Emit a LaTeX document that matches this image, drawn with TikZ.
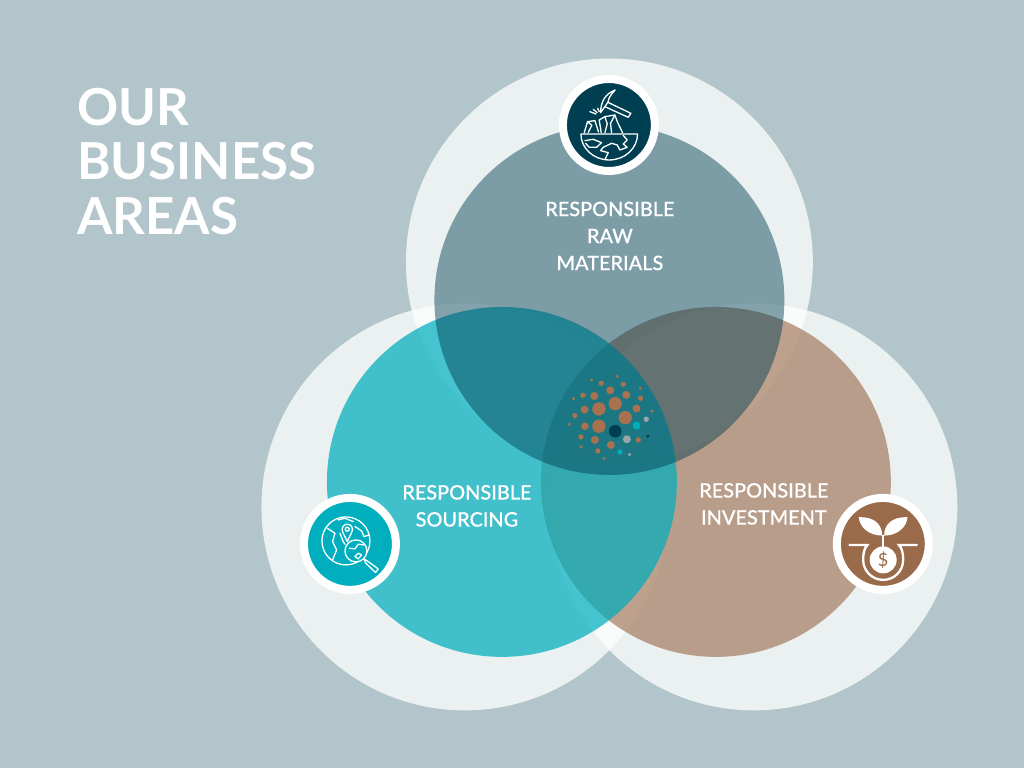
\documentclass[tikz,border=0pt]{standalone}
\usepackage{fontspec}
\setmainfont{Lato}
\newfontfamily\labelfont[FakeBold=0.25]{Lato Medium}
\usetikzlibrary{positioning}
\definecolor{bgblue}{HTML}{B2C5CB}
\definecolor{darkblue}{HTML}{003F52}
\definecolor{teal}{HTML}{00AEBD}
\definecolor{brown}{HTML}{9A6B4B}
\definecolor{dotbrown}{HTML}{A8714F}
\definecolor{dotgrey}{HTML}{9AA5A8}
\begin{document}
\begin{tikzpicture}[x=1pt,y=-1pt,
		every node/.style={align=center,inner sep=0pt},
		halo/.style={circle,minimum size=407pt,fill=white,fill opacity=.75},
		area/.style={circle,minimum size=350pt},
		badge/.style={circle,minimum size=92pt,draw=white,line width=8pt},
		label/.style={text=white,font=\labelfont\fontsize{19.9}{27}\selectfont},
		icon/.style={draw=white,line width=1.3pt,line join=round,line cap=round}
	]
	\node[fill=bgblue,minimum width=1024pt,minimum height=768pt,anchor=north west](Back) at (0,0){};
	\useasboundingbox (0,0) rectangle (1024,768);
	% big pale circles
	\node[halo](HaloTop) at (609.5,262){};
	\node[halo](HaloLeft) at (465,507){};
	\node[halo](HaloRight) at (754,507){};
	% the three areas
	\node[area,fill=brown,fill opacity=.62](AreaRight) at (716,482){};
	\node[area,fill=teal,fill opacity=.72](AreaLeft) at (502,482){};
	\node[area,fill=darkblue,fill opacity=.47](AreaTop) at (609.5,300){};
	% logo in the middle
	\begin{scope}[shift={(555,365)},scale=1/3]
		\foreach \x/\y/\r in {132/132/20,181/116/20,211/158/20,132/184/20,
				118/93/12,166/76/12,214/90/12,89/134/12,90/184/11.5,120/225/12,168/240/12,245/131/12,
				139/55/8,205/58/8,84/91/8,257/100/8,60/152/8,78/216/8,129/258/8,250/225/8,
				110/46/5,187/34/5,256/70/5,56/101/5,291/139/5,44/178/5,79/246/5,148/281/5}
			\fill[dotbrown] (\x,\y) circle (\r);
		\foreach \x/\y/\r in {181/199/19,279/214/5}
			\fill[darkblue] (\x,\y) circle (\r);
		\foreach \x/\y/\r in {245/182/12,195/261/8}
			\fill[teal] (\x,\y) circle (\r);
		\foreach \x/\y/\r in {216/223/12,274/163/8,224/269/5}
			\fill[dotgrey] (\x,\y) circle (\r);
	\end{scope}
	% badges
	\node[badge,fill=darkblue](BadgeTop) at (609,125){};
	\node[badge,fill=teal](BadgeLeft) at (350,544){};
	\node[badge,fill=brown](BadgeRight) at (883,544){};
	% raw materials icon
	\begin{scope}[shift={(540,60)},scale=1/3]
		\draw[icon] (123,222) -- (293,222) arc (0:180:85 and 78) -- cycle;
		\draw[icon] (182,158) .. controls (183,125) and (195,102) .. (226,90) .. controls (212,104) and (206,115) .. (204,127) -- (195,140) -- cycle;
		\draw[icon] (204,127) -- (273,160) -- (265,172) -- (195,140);
		\draw[icon] (150,155) -- (168,162) (160,148) -- (172,158) (173,145) -- (178,155);
		\draw[icon] (133,218) -- (143,185) -- (165,182) -- (176,216) (143,185) -- (156,196) -- (145,217);
		\draw[icon] (184,218) -- (178,180) -- (195,170) -- (225,165) -- (233,187) -- (248,218);
		\draw[icon] (195,170) -- (202,192) -- (195,218) (225,165) -- (212,190) -- (215,218);
		\draw[icon] (135,242) -- (160,238) -- (185,248) -- (170,262) -- (148,262) -- (137,250);
		\draw[icon] (250,226) -- (262,240) -- (250,252) -- (262,262) -- (240,270) -- (232,255) -- (215,250) -- (190,262) -- (182,272) -- (205,278) -- (195,299);
	\end{scope}
	% sourcing icon
	\begin{scope}[shift={(290,485)},scale=1/3]
		\draw[icon] (168,168) circle (72);
		\draw[icon] (112,130) -- (135,145) -- (128,170) -- (140,195) -- (128,225);
		\draw[icon] (145,105) -- (165,100) -- (190,110);
		\draw[icon] (195,125) -- (215,138) -- (222,155) -- (238,150);
		\draw[icon] (150,145) -- (160,170) -- (165,178);
		\draw[icon,fill=teal] (172,170) -- (160,145) .. controls (150,125) and (165,118) .. (172,118) .. controls (180,118) and (194,125) .. (184,145) -- cycle;
		\draw[icon] (172,133) circle (6);
		\draw[icon,fill=teal] (198,198) circle (33);
		\draw[icon] (178,190) -- (195,192) -- (205,178) -- (222,180);
		\draw[icon] (195,215) -- (205,205) -- (215,210) -- (205,222) -- cycle;
		\draw[icon] (222,222) -- (232,228) -- (265,252) -- (257,263) -- (228,235) -- cycle;
	\end{scope}
	% investment icon
	\begin{scope}[shift={(825,485)},scale=1/3]
		\fill[white] (172,152) .. controls (172,120) and (150,95) .. (102,97) .. controls (104,125) and (130,152) .. cycle;
		\fill[white] (178,152) .. controls (178,120) and (200,95) .. (248,97) .. controls (246,125) and (220,152) .. cycle;
		\draw[white,line width=2.3pt] (175,150) -- (175,190);
		\draw[white,line width=2.3pt,line cap=round] (74,180) -- (128,180) .. controls (118,190) and (115,205) .. (115,225) arc (180:0:60) .. controls (235,205) and (232,190) .. (222,180) -- (276,180);
		\node[circle,fill=white,minimum size=27pt,text=brown,font=\fontsize{18}{18}\selectfont](Coin) at (175,225){\$};
	\end{scope}
	% labels
	\node[text=white,align=left,anchor=north west,font=\fontsize{51}{54.5}\selectfont\bfseries](Title) at (77,88){OUR\\BUSINESS\\AREAS};
	\node[label](LabelTop) at (610,236){RESPONSIBLE\\RAW\\MATERIALS};
	\node[label](LabelLeft) at (467,506){RESPONSIBLE\\SOURCING};
	\node[label](LabelRight) at (764,504){RESPONSIBLE\\INVESTMENT};
\end{tikzpicture}
\end{document}
